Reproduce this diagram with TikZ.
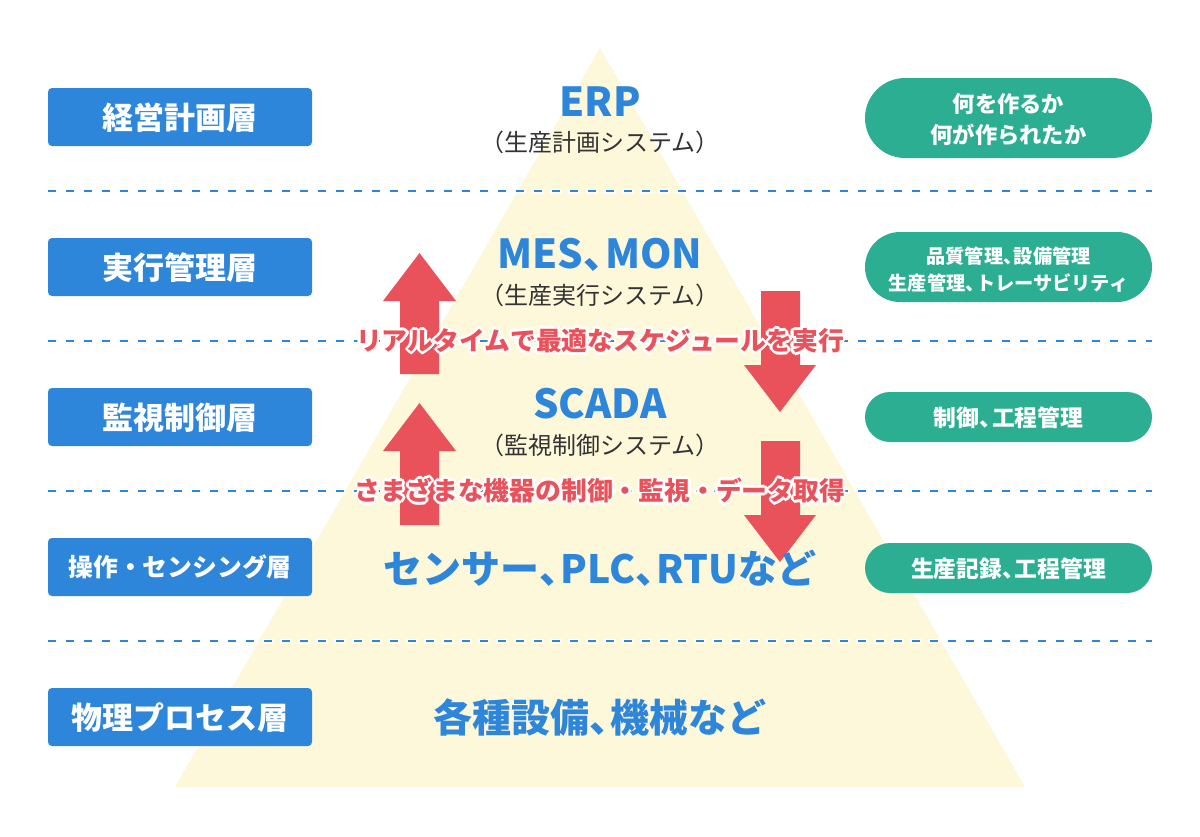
\documentclass[tikz,border=0pt]{standalone}
\usepackage{fontspec}
\setmainfont{Noto Sans CJK JP}
\newfontfamily\jpfont{Noto Sans CJK JP}
\usetikzlibrary{calc}
\definecolor{tri}{HTML}{FEF8DB}
\definecolor{lblue}{HTML}{2E86DA}
\definecolor{lgreen}{HTML}{2BAE91}
\definecolor{lred}{HTML}{E9525B}
\definecolor{dgray}{HTML}{333333}
\newcommand\fs[1]{\fontsize{#1}{#1}\selectfont}
\newcommand\tc{、\hspace{-0.45em}}
\tikzset{
  layerbox/.style={fill=lblue, rounded corners=4pt, minimum width=264pt, minimum height=58pt, inner sep=0pt},
  layertext/.style={text=white, font=\jpfont\bfseries\fs{31}, anchor=base},
  pillbox/.style={fill=lgreen, rounded corners=#1, minimum width=287pt, minimum height=2*#1, inner sep=0pt},
  pilltext/.style={text=white, font=\jpfont\bfseries, anchor=base},
  systitle/.style={text=lblue, font=\jpfont\bfseries\fs{40}, anchor=base},
  syssub/.style={text=dgray, font=\jpfont\fs{24}, anchor=base},
  bigtext/.style={text=lblue, font=\jpfont\bfseries\fs{39}, anchor=base},
  redtext/.style={text=lred, font=\jpfont\bfseries\fs{25.8}, anchor=base},
  halotext/.style={text=white, font=\jpfont\bfseries\fs{25.8}, anchor=base},
  dashline/.style={draw=lblue, line width=2pt, dash pattern=on 8pt off 10pt},
  dashhalo/.style={draw=white, line width=5pt, dash pattern=on 12pt off 6pt, opacity=0.85},
  redarrow/.style={fill=lred},
}
\newcommand\redlabel[3]{%
  \foreach \a in {0,30,...,330}{\node[halotext] at ($(600,#2)+(\a:2.6pt)$) {#3};}
  \node[redtext] (#1) at (600,#2) {#3};}
\begin{document}
\begin{tikzpicture}[x=1pt,y=-1pt]
\useasboundingbox (0,0) rectangle (1200,836);
\fill[white] (0,0) rectangle (1200,836);
% pyramid
\coordinate (apex) at (600,48);
\coordinate (bl) at (175,787);
\coordinate (br) at (1025,787);
\fill[tri] (apex) -- (br) -- (bl) -- cycle;
% dashed separators
\foreach \y in {191,341,491,641}{
  \draw[dashhalo] (46,\y) -- (1154,\y);
  \draw[dashline] (48,\y) -- (1152,\y);
}
% left layer boxes
\node[layerbox] (L1) at (180,117) {};
\node[layerbox] (L2) at (180,267) {};
\node[layerbox] (L3) at (180,417) {};
\node[layerbox] (L4) at (180,567) {};
\node[layerbox] (L5) at (180,717) {};
\node[layertext] (L1t) at (180,129) {経営計画層};
\node[layertext] (L2t) at (180,279) {実行管理層};
\node[layertext] (L3t) at (180,429) {監視制御層};
\node[layertext, font=\jpfont\bfseries\fs{24.8}] (L4t) at (180,576.5) {操作・センシング層};
\node[layertext] (L5t) at (180,729) {物理プロセス層};
% right pills
\node[pillbox=40pt] (R1) at (1008.5,118) {};
\node[pillbox=35pt] (R2) at (1008.5,267) {};
\node[pillbox=25pt] (R3) at (1008.5,417) {};
\node[pillbox=25pt] (R4) at (1008.5,568) {};
\node[pilltext, font=\jpfont\bfseries\fs{22.3}] (R1a) at (1008.5,112) {何を作るか};
\node[pilltext, font=\jpfont\bfseries\fs{22.3}] (R1b) at (1008.5,143) {何が作られたか};
\node[pilltext, font=\jpfont\bfseries\fs{19.2}] (R2a) at (1008.5,263) {品質管理\tc 設備管理};
\node[pilltext, font=\jpfont\bfseries\fs{19.2}] (R2b) at (1008.5,290) {生産管理\tc トレーサビリティ};
\node[pilltext, font=\jpfont\bfseries\fs{22.8}] (R3a) at (1008.5,426) {制御\tc 工程管理};
\node[pilltext, font=\jpfont\bfseries\fs{22.8}] (R4a) at (1008.5,577) {生産記録\tc 工程管理};
% arrows
\fill[redarrow] (400,374) -- (400,301) -- (383,301) -- (419.5,253) -- (456,301) -- (439,301) -- (439,374) -- cycle;
\fill[redarrow] (400,525) -- (400,451) -- (383,451) -- (419.5,403) -- (456,451) -- (439,451) -- (439,525) -- cycle;
\fill[redarrow] (761,291) -- (800,291) -- (800,365) -- (816,365) -- (780,412) -- (744,365) -- (761,365) -- cycle;
\fill[redarrow] (761,441) -- (800,441) -- (800,515) -- (816,515) -- (780,562) -- (744,515) -- (761,515) -- cycle;
% red labels
\redlabel{T1}{350.5}{リアルタイムで最適なスケジュールを実行}
\redlabel{T2}{500.5}{さまざまな機器の制御・監視・データ取得}
% system titles
\node[systitle] (ERP) at (600,116) {ERP};
\node[syssub] (ERPs) at (600,151) {（生産計画システム）};
\node[systitle] (MES) at (600,268) {MES\tc MON};
\node[syssub] (MESs) at (600,304) {（生産実行システム）};
\node[systitle] (SCADA) at (600,418) {SCADA};
\node[syssub] (SCADAs) at (600,454) {（監視制御システム）};
\node[bigtext] (SEN) at (600,583) {センサー\tc PLC\tc RTUなど};
\node[bigtext] (PHY) at (600,732.5) {各種設備\tc 機械など};
\end{tikzpicture}
\end{document}
